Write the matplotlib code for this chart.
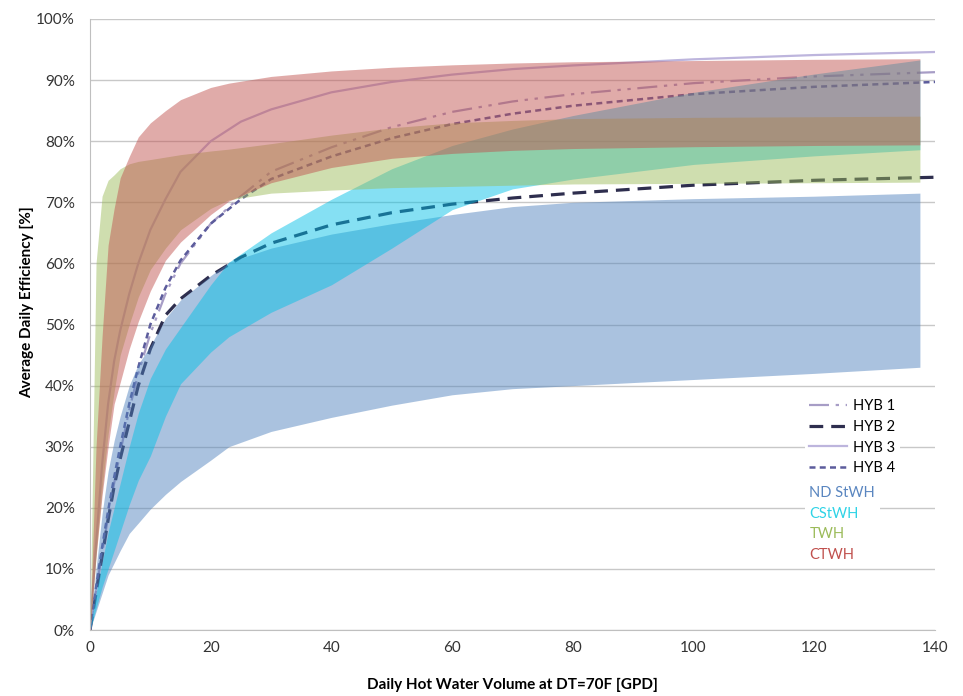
import matplotlib
matplotlib.use("Agg")
import matplotlib.pyplot as plt
from matplotlib.lines import Line2D
from matplotlib.ticker import FuncFormatter

plt.rcParams["font.family"] = ["Lato", "DejaVu Sans"]

# ---- band data (daily volume GPD -> efficiency %) ----
band_x = [0, 1, 2, 3, 4, 5, 6.5, 8, 10, 12.5, 15, 20, 23, 30, 40, 50, 60, 70, 80, 100, 120, 137.5]

nd_lo = [0, 3, 6, 9, 11, 13, 15.8, 17.5, 19.8, 22.2, 24.3, 27.8, 30, 32.5, 34.8, 36.8, 38.5, 39.5, 40, 41, 42, 43]
nd_hi = [0, 10, 19, 26, 31, 35, 40, 43.5, 46.5, 51, 54, 58, 60.2, 62.5, 64.8, 66.5, 68, 69.3, 70, 70.6, 71, 71.5]

cst_lo = [0, 3.5, 7, 10, 13, 16, 20.5, 24.5, 28.5, 35, 40.3, 45.5, 48, 52, 56.5, 62.5, 68.8, 72.2, 73.8, 76.2, 77.6, 78.6]
cst_hi = [0, 6, 11, 16, 20, 24, 30, 35.5, 41.2, 46, 49.5, 56.5, 60.2, 65, 70.5, 75.5, 79.3, 82, 84.2, 88, 91, 93.3]

twh_lo = [0, 12, 23, 32, 39, 45, 50, 54.5, 59, 62.5, 65.5, 69, 70.4, 71.5, 72, 72.4, 72.6, 72.8, 73, 73.1, 73.2, 73.3]
twh_hi = [0, 60, 71, 73.6, 74.5, 75.5, 76.3, 76.7, 77, 77.4, 77.8, 78.4, 78.7, 79.6, 81, 82.2, 83, 83.4, 83.7, 83.9, 84, 84.1]

ctwh_lo = [0, 12, 22, 30, 37, 40.5, 46, 50.5, 55.5, 60.5, 63.5, 68, 70.2, 73.2, 75.7, 77.2, 78, 78.5, 78.8, 79.1, 79.3, 79.4]
ctwh_hi = [0, 30, 48, 63, 69, 74, 77.5, 80.7, 83, 85, 86.8, 88.8, 89.5, 90.6, 91.5, 92.1, 92.5, 92.8, 93, 93.2, 93.4, 93.5]

# ---- hybrid curves ----
hyb_x = [0, 1, 2, 3, 4, 5, 6.5, 8, 10, 12.5, 15, 20, 25, 30, 40, 50, 60, 70, 80, 100, 120, 140]
hyb1 = [0, 6.5, 12.5, 18.5, 24, 29, 36, 42, 48.5, 55, 60, 66.5, 71, 75, 79, 82.3, 84.8, 86.5, 87.7, 89.5, 90.6, 91.3]
hyb2 = [0, 6, 12, 18, 23.5, 28, 34, 40, 46, 51.5, 54.2, 58, 61, 63.3, 66.3, 68.3, 69.7, 70.7, 71.5, 72.8, 73.6, 74.1]
hyb3 = [0, 14, 27, 37, 44, 49, 55, 60, 65.5, 70.5, 75, 80, 83.2, 85.2, 88, 89.7, 90.9, 91.8, 92.4, 93.4, 94.1, 94.6]
hyb4 = [0, 7, 13.5, 19.5, 25, 30, 37, 43, 50, 56, 60.5, 66.5, 70.5, 73.8, 77.5, 80.5, 82.8, 84.5, 85.8, 87.7, 88.9, 89.7]

band_names = ["ND StWH", "CStWH", "TWH", "CTWH"]
band_colors = ["#4f81bd", "#00c0e6", "#9bbb59", "#c0504d"]
band_text = ["#5a86c0", "#2fd3e6", "#9bbb59", "#c0504d"]
bands = [(nd_lo, nd_hi), (cst_lo, cst_hi), (twh_lo, twh_hi), (ctwh_lo, ctwh_hi)]

fig = plt.figure(figsize=(9.63, 6.96), dpi=100)
ax = fig.add_axes([90 / 963, 1 - 630 / 696, 845 / 963, 611 / 696])

# curves sit underneath the translucent bands
ln1, = ax.plot(hyb_x, hyb1, color="#a79dc6", lw=1.6, dashes=(9, 3, 1.5, 3, 1.5, 3), zorder=1.5)
ln2, = ax.plot(hyb_x, hyb2, color="#2e2e4e", lw=2.3, dashes=(4.3, 2.5), zorder=1.5)
ln3, = ax.plot(hyb_x, hyb3, color="#bdb5dd", lw=1.6, zorder=1.5)
ln4, = ax.plot(hyb_x, hyb4, color="#5c5c9c", lw=1.8, dashes=(2.4, 1.7), zorder=1.5)

for (lo, hi), c in zip(bands, band_colors):
    ax.fill_between(band_x, lo, hi, color=c, alpha=0.48, lw=0, zorder=2)

ax.set_xlim(0, 140)
ax.set_ylim(0, 100)
ax.set_xticks(range(0, 141, 20))
ax.set_yticks(range(0, 101, 10))
ax.yaxis.set_major_formatter(FuncFormatter(lambda v, p: f"{v:.0f}%"))
ax.grid(axis="y", color="#c8c8c8", lw=1)
ax.set_axisbelow(True)
for s in ["top", "right"]:
    ax.spines[s].set_visible(False)
for s in ["left", "bottom"]:
    ax.spines[s].set_color("#bfbfbf")
ax.tick_params(length=0, labelsize=11, colors="#333333")
ax.tick_params(axis="y", pad=11)
ax.tick_params(axis="x", pad=8)
ax.set_xlabel("Daily Hot Water Volume at DT=70F [GPD]", fontsize=11, fontweight="bold")
ax.set_ylabel("Average Daily Efficiency [%]", fontsize=11, fontweight="bold")
ax.xaxis.set_label_coords(0.5, -0.078)
ax.yaxis.set_label_coords(-0.066, 0.537)

leg1 = ax.legend([ln1, ln2, ln3, ln4], ["HYB 1", "HYB 2", "HYB 3", "HYB 4"],
                 loc="upper left", bbox_to_anchor=(805 / 963, 1 - 395 / 696),
                 bbox_transform=fig.transFigure, fontsize=10.5, frameon=True,
                 handlelength=2.6, handletextpad=0.4, labelspacing=0.45,
                 borderpad=0.3, borderaxespad=0)
leg1.get_frame().set_facecolor("white")
leg1.get_frame().set_edgecolor("none")
leg1.get_frame().set_alpha(1)
ax.add_artist(leg1)

dummies = [Line2D([], [], lw=0) for _ in band_names]
leg2 = ax.legend(dummies, band_names, loc="upper left",
                 bbox_to_anchor=(805 / 963, 1 - 482 / 696),
                 bbox_transform=fig.transFigure, fontsize=10.5, frameon=True,
                 handlelength=0, handletextpad=0, labelspacing=0.45,
                 borderpad=0.3, borderaxespad=0, labelcolor=band_text)
leg2.get_frame().set_facecolor("white")
leg2.get_frame().set_edgecolor("none")
leg2.get_frame().set_alpha(1)

fig.savefig("out.png", dpi=100)
